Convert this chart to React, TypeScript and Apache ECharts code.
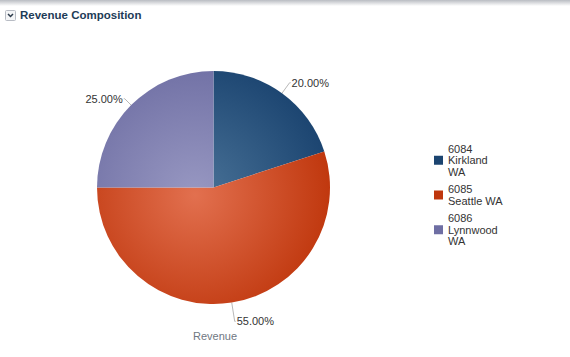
import React, { useEffect, useRef } from "react";
import * as echarts from "echarts";

const categories = ["6084\nKirkland\nWA", "6085\nSeattle WA", "6086\nLynnwood\nWA"];
const revenueShares = [20, 55, 25];
const innerColors = ["#4a7398", "#e2704f", "#9898c2"];
const outerColors = ["#1b4470", "#bf360c", "#6e6ea3"];
const seriesName = "Revenue";
const titleText = "Revenue Composition";

export default function App() {
  const ref = useRef<HTMLDivElement>(null);
  useEffect(() => {
    if (!ref.current) return;
    const chart = echarts.init(ref.current, null, { renderer: "svg" });
    const total = revenueShares.reduce((a, b) => a + b, 0);
    const cx = 213.5;
    const cy = 187.5;
    const lineLengths = [13, 19, 9];
    chart.setOption({
      animation: false,
      backgroundColor: "#ffffff",
      legend: {
        orient: "vertical",
        left: 434,
        top: 143,
        padding: 0,
        itemWidth: 9,
        itemHeight: 9,
        itemGap: 6,
        icon: "rect",
        textStyle: {
          fontFamily: "Liberation Sans, Arial, sans-serif",
          fontSize: 11,
          lineHeight: 11.5,
          color: "#333333",
        },
        data: categories,
      },
      graphic: [
        {
          type: "rect",
          shape: { x: 0, y: 0, width: 570, height: 6 },
          style: {
            fill: new echarts.graphic.LinearGradient(0, 0, 0, 1, [
              { offset: 0, color: "#b9bcc2" },
              { offset: 1, color: "#ffffff" },
            ]),
          },
          silent: true,
        },
        {
          type: "rect",
          shape: { x: 5.5, y: 10.5, width: 10, height: 10, r: 1 },
          style: { fill: "#f4f5f7", stroke: "#b8bcc4", lineWidth: 1 },
        },
        {
          type: "polyline",
          shape: { points: [[8, 14], [10.5, 16.5], [13, 14]] },
          style: { stroke: "#2b3a4a", lineWidth: 1.5, fill: null },
        },
        {
          type: "text",
          x: 20,
          y: 9,
          style: {
            text: titleText,
            fontFamily: "Liberation Sans, Arial, sans-serif",
            fontSize: 11.5,
            fontWeight: "bold",
            fill: "#1d3b57",
          },
        },
        {
          type: "text",
          x: 215,
          y: 330,
          style: {
            text: seriesName,
            fontFamily: "Liberation Sans, Arial, sans-serif",
            fontSize: 11,
            fill: "#6f7782",
            align: "center",
          },
        },
      ],
      series: [
        {
          name: seriesName,
          type: "pie",
          center: [cx, cy],
          radius: 116.5,
          startAngle: 90,
          clockwise: true,
          avoidLabelOverlap: false,
          label: {
            show: true,
            position: "outside",
            formatter: (p: any) => ((p.value / total) * 100).toFixed(2) + "%",
            fontFamily: "Liberation Sans, Arial, sans-serif",
            fontSize: 11,
            color: "#333333",
            distanceToLabelLine: 1,
          },
          labelLine: {
            show: true,
            length: 13,
            length2: 1,
            lineStyle: { color: "#b8b8b8", width: 1 },
          },
          emphasis: { disabled: true },
          data: categories.map((name, i) => ({
            name,
            value: revenueShares[i],
            labelLine: { length: lineLengths[i] },
            itemStyle: {
              color: new echarts.graphic.RadialGradient(
                195,
                195,
                140,
                [
                  { offset: 0, color: innerColors[i] },
                  { offset: 1, color: outerColors[i] },
                ],
                true
              ),
            },
          })),
        },
      ],
    });
    return () => chart.dispose();
  }, []);
  return (
    <div
      ref={ref}
      style={{ position: "absolute", left: 0, top: 0, width: 570, height: 357 }}
    />
  );
}
